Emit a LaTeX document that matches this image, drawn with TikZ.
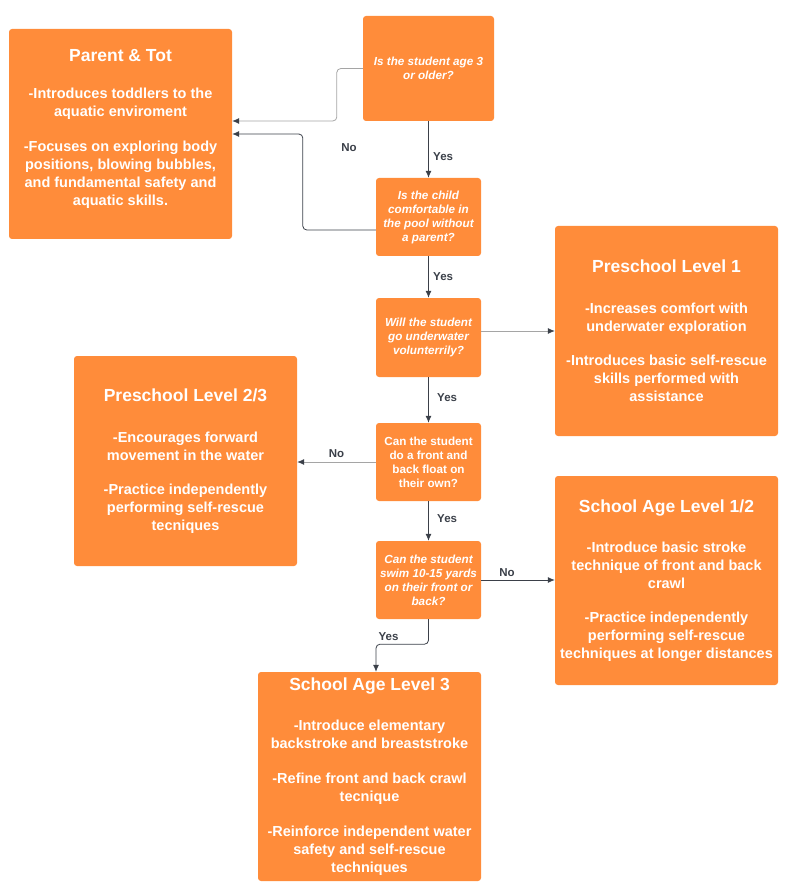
\documentclass[tikz,border=0pt]{standalone}
\usepackage{fontspec}
\setmainfont{Liberation Sans}
\usepackage{tikz}
\usetikzlibrary{positioning,arrows.meta}

\definecolor{swimorange}{RGB}{255,140,58}
\definecolor{linedark}{RGB}{59,64,73}
\definecolor{linefaint}{RGB}{165,165,165}

\begin{document}
\begin{tikzpicture}[x=1pt,y=-1pt,
		askbox/.style={draw=none,fill=swimorange,rounded corners=3pt,text=white,align=center,
			font=\fontsize{11.7}{14}\selectfont\bfseries\itshape,inner sep=0pt},
		levelbox/.style={draw=none,fill=swimorange,rounded corners=3pt,text=white,align=center,
			font=\fontsize{14.5}{18}\selectfont\bfseries,inner sep=0pt,
			minimum width=223pt,minimum height=210pt},
		flow/.style={draw=linedark,line width=.8pt,rounded corners=4pt,-{Latex[length=7pt,width=6pt]}},
		faint/.style={flow,draw=linefaint,-{Latex[length=7pt,width=6pt,color=linedark]}},
		tag/.style={text=linedark,font=\fontsize{11.5}{13}\selectfont\bfseries}]
		\useasboundingbox (0,0) rectangle (790,882);

		% questions
		\node[askbox,minimum width=131pt,minimum height=105pt] (q1) at (428.5,68.5) {Is the student age 3\\or older?};
		\node[askbox,minimum width=105pt,minimum height=78pt] (q2) at (428.5,217) {Is the child\\comfortable in\\the pool without\\a parent?};
		\node[askbox,minimum width=105pt,minimum height=79pt] (q3) at (428.5,337.5) {Will the student\\go underwater\\volunterrily?};
		\node[askbox,minimum width=105pt,minimum height=78pt,font=\fontsize{11.7}{14}\selectfont\bfseries] (q4) at (428.5,462) {Can the student\\do a front and\\back float on\\their own?};
		\node[askbox,minimum width=105pt,minimum height=78pt] (q5) at (428.5,580) {Can the student\\swim 10-15 yards\\on their front or\\back?};

		% levels
		\node[levelbox] (tot) at (120.5,134) {{\fontsize{17.5}{18}\selectfont Parent \& Tot}\\[19pt]
			-Introduces toddlers to the\\aquatic enviroment\\[17pt]
			-Focuses on exploring body\\positions, blowing bubbles,\\and fundamental safety and\\aquatic skills.\\[-4pt]~};
		\node[levelbox] (pre1) at (666.5,331) {{\fontsize{17.5}{18}\selectfont Preschool Level 1}\\[23pt]
			-Increases comfort with\\underwater exploration\\[16pt]
			-Introduces basic self-rescue\\skills performed with\\assistance};
		\node[levelbox] (pre23) at (185.5,461) {{\fontsize{17.5}{18}\selectfont Preschool Level 2/3}\\[23pt]
			-Encourages forward\\movement in the water\\[16pt]
			-Practice independently\\performing self-rescue\\tecniques};
		\node[levelbox,minimum height=209pt] (sa12) at (666.5,580.5) {{\fontsize{17.5}{18}\selectfont School Age Level 1/2}\\[22pt]
			-Introduce basic stroke\\technique of front and back\\crawl\\[16pt]
			-Practice independently\\performing self-rescue\\techniques at longer distances};
		\node[levelbox,minimum height=209pt] (sa3) at (369.5,776.5) {{\fontsize{17.5}{18}\selectfont School Age Level 3}\\[22pt]
			-Introduce elementary\\backstroke and breaststroke\\[17pt]
			-Refine front and back crawl\\tecnique\\[17pt]
			-Reinforce independent water\\safety and self-rescue\\techniques};

		% connectors
		\draw[faint] (q1.west) -- ++(-26,0) |- ([yshift=13pt]tot.east);
		\draw[flow] ([yshift=-13pt]q2.west) -- ++(-73,0) |- (tot.east);
		\node[tag] (no1) at (349,148) {No};

		\draw[flow] (q1.south) -- node[tag,pos=.62,right=1pt] {Yes} (q2.north);
		\draw[flow] (q2.south) -- node[tag,right=1pt] {Yes} (q3.north);
		\draw[faint] (q3.east |- pre1.west) -- (pre1.west);
		\draw[flow] (q3.south) -- node[tag,pos=.45,right=5pt] {Yes} (q4.north);
		\draw[faint] (q4.west) -- node[tag,above=1pt] {No} (q4.west -| pre23.east);
		\draw[flow] (q4.south) -- node[tag,pos=.45,right=5pt] {Yes} (q5.north);
		\draw[flow] (q5.east) -- node[tag,pos=.35,above=0pt] {No} (q5.east -| sa12.west);
		\draw[flow] (q5.south) -- ++(0,25) -| node[tag,pos=.38,above=0pt] {Yes} ([xshift=6.5pt]sa3.north);
	\end{tikzpicture}
\end{document}
